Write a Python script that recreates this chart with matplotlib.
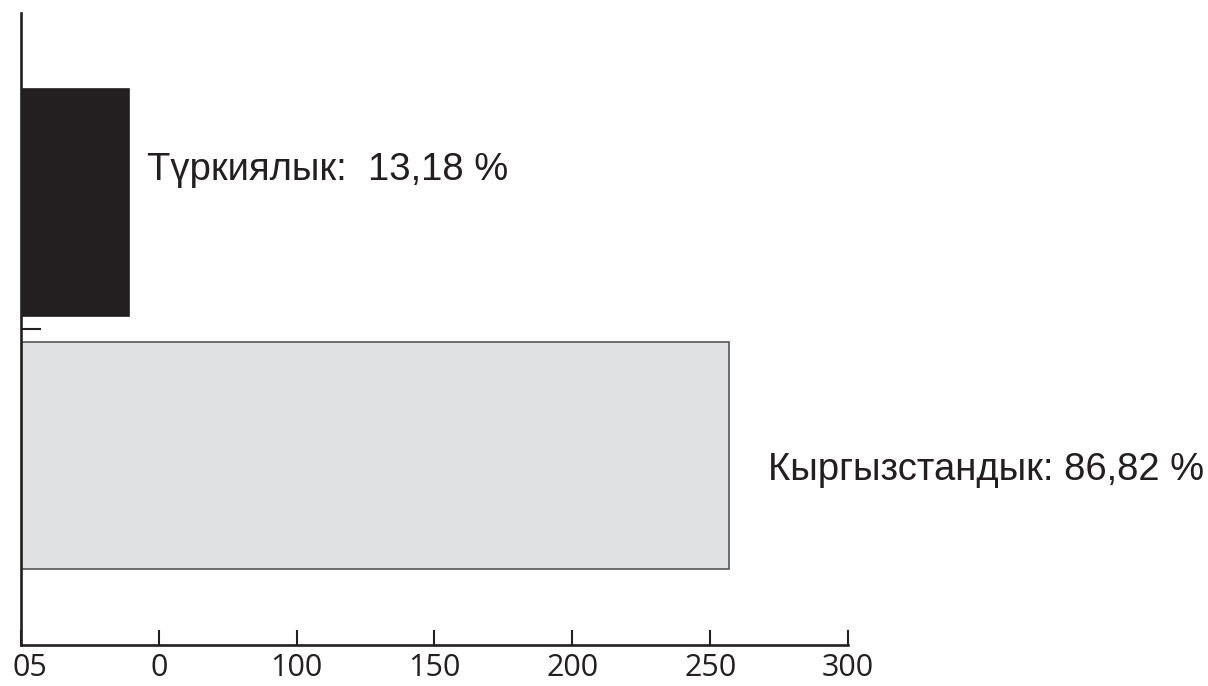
import matplotlib.pyplot as plt
import matplotlib.transforms as mtransforms

# data
categories = ['Кыргызстандык', 'Түркиялык']
values = [257, 39]
labels = ['Кыргызстандык: 86,82 %', 'Түркиялык:  13,18 %']
bar_colors = ['#e0e1e2', '#231f20']
tick_vals = [0, 50, 100, 150, 200, 250, 300]
tick_labels = ['05', '0', '100', '150', '200', '250', '300']

dark = '#231f20'

fig = plt.figure(figsize=(12.08, 6.86), dpi=100)
ax = fig.add_axes([21 / 1208, 41 / 686, 827 / 1208, 632 / 686])

ypos = list(range(len(categories)))
ax.barh(ypos, values, height=0.9, color=bar_colors,
        edgecolor=['#555555', dark], linewidth=1.2)

# labels next to the bars
label_x = [271, 45.7]
label_y = [-0.097, 1.089]
for x, y, txt in zip(label_x, label_y, labels):
    ax.text(x, y, txt, fontsize=27.5, family='Liberation Sans', color=dark,
            va='baseline', ha='left', clip_on=False)

ax.set_xlim(0, 300)
ax.set_ylim(-0.75, 1.75)

for s in ['top', 'right']:
    ax.spines[s].set_visible(False)
for s in ['left', 'bottom']:
    ax.spines[s].set_linewidth(1.9)
    ax.spines[s].set_color(dark)

ax.set_xticks(tick_vals)
ax.set_xticklabels(tick_labels, fontsize=22, family='Open Sans', color=dark)
ax.tick_params(axis='x', direction='in', length=11, width=1.5, color=dark, pad=6)

# first label sits a bit right of its tick in the original
first = ax.get_xticklabels()[0]
first.set_transform(first.get_transform() +
                    mtransforms.ScaledTranslation(9 / 100, 0, fig.dpi_scale_trans))

ax.set_yticks([0.5])
ax.set_yticklabels([])
ax.tick_params(axis='y', direction='in', length=14.5, width=1.5, color=dark)

fig.savefig('out.png', dpi=100)
